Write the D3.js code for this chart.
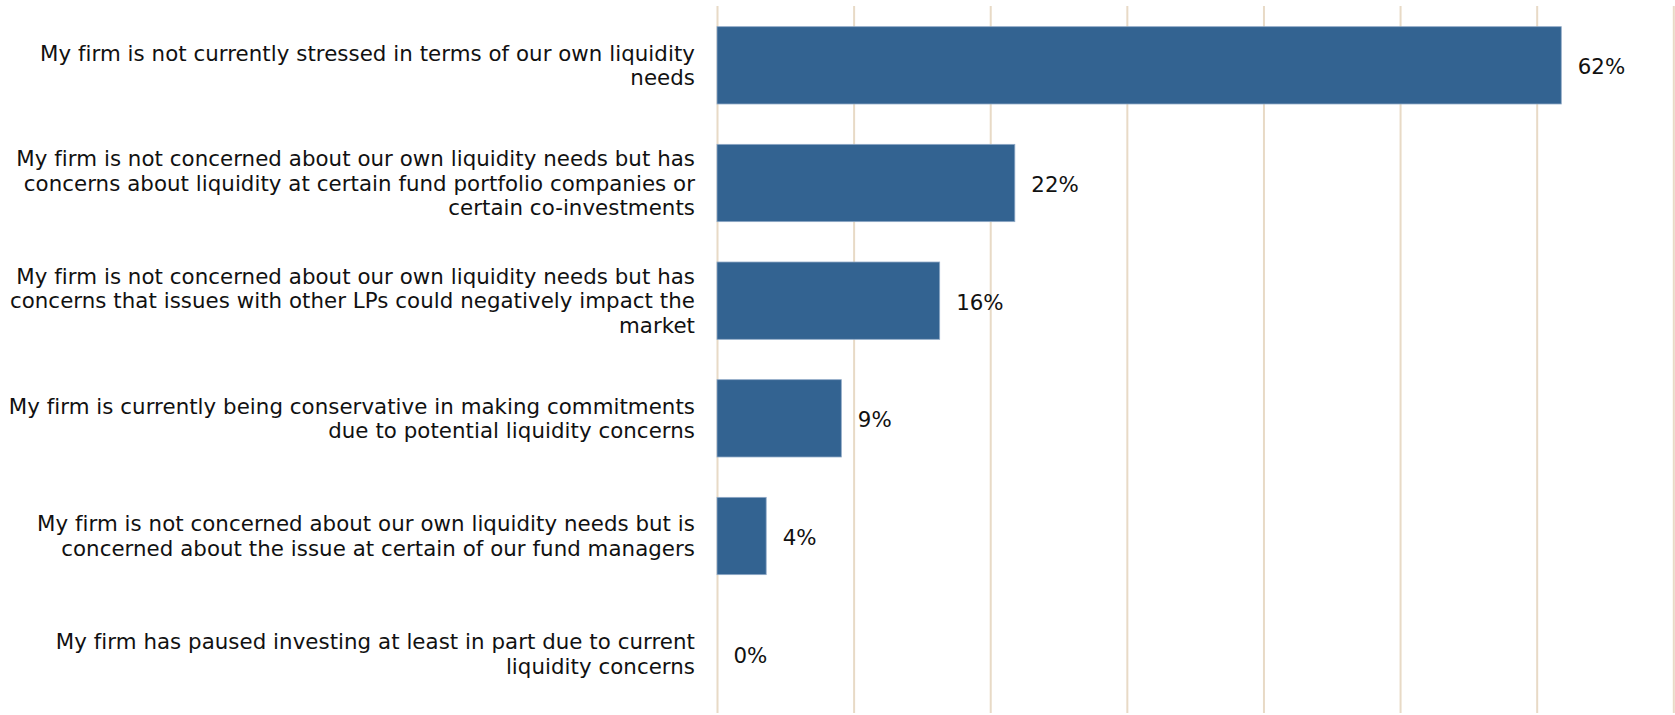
<!DOCTYPE html>
<html>
<head>
<meta charset="utf-8">
<script src="https://cdn.jsdelivr.net/npm/d3@7"></script>
<style>
  html, body { margin: 0; padding: 0; background: #ffffff; }
  svg { display: block; }
  text { font-family: Verdana, "DejaVu Sans", sans-serif; }
</style>
</head>
<body>
<svg id="chart" width="1675" height="715"></svg>
<script>
// ---- data ----
const categories = [
  "My firm is not currently stressed in terms of our own liquidity\nneeds",
  "My firm is not concerned about our own liquidity needs but has\nconcerns about liquidity at certain fund portfolio companies or\ncertain co-investments",
  "My firm is not concerned about our own liquidity needs but has\nconcerns that issues with other LPs could negatively impact the\nmarket",
  "My firm is currently being conservative in making commitments\ndue to potential liquidity concerns",
  "My firm is not concerned about our own liquidity needs but is\nconcerned about the issue at certain of our fund managers",
  "My firm has paused investing at least in part due to current\nliquidity concerns"
];
const values = [61.8, 21.8, 16.3, 9.1, 3.6, 0];
const valueLabels = ["62%", "22%", "16%", "9%", "4%", "0%"];
const gridTicks = [0, 10, 20, 30, 40, 50, 60, 70];

// ---- layout ----
const svg = d3.select("#chart");
const x = d3.scaleLinear().domain([0, 70]).range([717, 1673.3]);
const y = d3.scaleBand()
  .domain(d3.range(categories.length))
  .range([6.5, 712.5])
  .paddingInner(0.343)
  .paddingOuter(0.1715);

// gridlines
const grid = svg.append("g")
  .attr("transform", "translate(0,6)")
  .call(d3.axisTop(x).tickValues(gridTicks).tickSize(-(713 - 6)).tickFormat(""));
grid.select(".domain").remove();
grid.selectAll(".tick line")
  .attr("stroke", "#e8dac6")
  .attr("stroke-width", 2);

// bars
svg.append("g").selectAll("rect")
  .data(values)
  .join("rect")
  .attr("x", x(0))
  .attr("y", (d, i) => y(i))
  .attr("width", d => Math.max(0, x(d) - x(0)))
  .attr("height", y.bandwidth())
  .attr("fill", "#336391")
  .attr("stroke", d => d > 0 ? "#8fa9c6" : "none")
  .attr("stroke-width", 0.8);

// value labels
svg.append("g").selectAll("text")
  .data(values)
  .join("text")
  .attr("x", d => x(d) + 16.5)
  .attr("y", (d, i) => y(i) + y.bandwidth() / 2)
  .attr("dy", "0.42em")
  .attr("font-size", 21.33)
  .attr("fill", "#111")
  .text((d, i) => valueLabels[i]);

// category labels
const lineH = 24.7;
const catG = svg.append("g");
categories.forEach((c, i) => {
  const lines = c.split("\n");
  const cy = y(i) + y.bandwidth() / 2;
  const t = catG.append("text")
    .attr("text-anchor", "end")
    .attr("font-size", 21.33)
    .attr("letter-spacing", 0.05)
    .attr("fill", "#111");
  lines.forEach((ln, j) => {
    t.append("tspan")
      .attr("x", 695)
      .attr("y", cy + 7.6 + (j - (lines.length - 1) / 2) * lineH)
      .text(ln);
  });
});
</script>
</body>
</html>
